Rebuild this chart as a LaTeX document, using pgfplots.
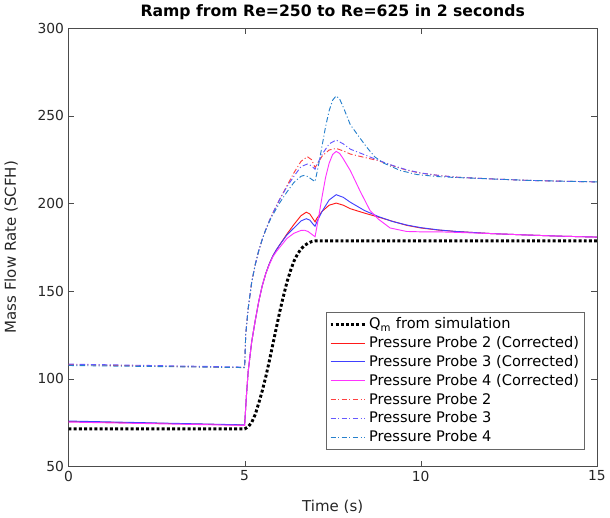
\documentclass[border=0pt]{standalone}
\usepackage{fontspec}
\setmainfont{DejaVu Sans}
\usepackage{pgfplots}
\pgfplotsset{compat=1.18}
\definecolor{cRed}{rgb}{1,0.1,0.1}
\definecolor{cBlue}{rgb}{0.25,0.25,1}
\definecolor{cMag}{rgb}{1,0.2,1}
\definecolor{dRed}{rgb}{1,0.25,0.25}
\definecolor{dBlue}{rgb}{0.4,0.35,1}
\definecolor{dLBlue}{rgb}{0.15,0.5,0.8}
\begin{document}
\begin{tikzpicture}
\begin{axis}[
  width=398pt, height=330pt, scale only axis,
  xmin=0, xmax=15, ymin=50, ymax=300,
  xtick={0,5,10,15}, ytick={50,100,150,200,250,300},
  tick align=inside, major tick length=4pt,
  axis line style={black!70}, tick style={black!70},
  /pgf/number format/assume math mode=true,
  tick label style={font=\fontsize{10.4}{12}\selectfont, text=black!85},
  title={\bfseries Ramp from Re=250 to Re=625 in 2 seconds},
  title style={font=\fontsize{11.8}{14}\selectfont, yshift=-3pt},
  xlabel={Time (s)}, ylabel={Mass Flow Rate (SCFH)},
  xlabel shift=7pt, ylabel shift=8pt,
  label style={font=\fontsize{11.3}{13}\selectfont, text=black!85},
  legend style={at={(0.977,0.039)}, anchor=south east, draw=black!60,
    font=\fontsize{11}{13}\selectfont, inner sep=2pt, row sep=0.3pt},
  legend cell align=left,
  legend image code/.code={\draw[#1] (0pt,0pt) -- (26pt,0pt);},
]
% Q_m from simulation
\addplot[black, line width=2.2pt, dash pattern=on 2.2pt off 1.7pt] coordinates {
(0,71.3) (5,71.3) (5.1,72.5) (5.2,75) (5.3,79.5) (5.4,86) (5.5,93) (5.6,101) (5.7,110) (5.8,119.5) (5.9,129) (6.0,138.5) (6.1,147) (6.2,155) (6.3,161.5) (6.4,167) (6.5,171) (6.6,174) (6.7,176) (6.8,177.3) (6.9,178.2) (7.0,178.6) (15,178.6)
};
\addlegendentry{Q\textsubscript{m} from simulation}
% Probe 2 corrected
\addplot[cRed, line width=0.7pt] coordinates {
(0,75.5) (5,73.5) (5.05,90) (5.1,104) (5.2,121) (5.3,133) (5.4,144) (5.5,153) (5.6,160) (5.7,165.5) (5.8,170) (5.9,173.5) (6.0,176.5) (6.2,182.5) (6.4,188) (6.6,193) (6.75,195) (6.85,194) (6.95,191) (7.0,189.5) (7.05,191.5) (7.2,195.5) (7.4,199) (7.6,200.2) (7.8,199) (8.0,197) (8.4,194.5) (8.8,192.2) (9.2,189.8) (9.6,187.5) (10,186) (10.5,184.8) (11,184) (12,182.8) (13,182) (14,181.3) (15,180.8)
};
\addlegendentry{Pressure Probe 2 (Corrected)}
% Probe 3 corrected
\addplot[cBlue, line width=0.7pt] coordinates {
(0,75.8) (5,73.6) (5.05,90) (5.1,104) (5.2,121) (5.3,133) (5.4,144) (5.5,153) (5.6,160) (5.7,165.5) (5.8,170) (5.9,173.5) (6.0,176.5) (6.2,182) (6.4,186) (6.6,190) (6.75,191.3) (6.85,190.5) (6.95,188) (7.0,187) (7.05,189.5) (7.2,195.5) (7.4,202) (7.6,205) (7.8,203.5) (8.0,200.7) (8.4,196) (8.8,192.5) (9.2,189.7) (9.6,187.7) (10,186.2) (10.5,184.9) (11,184) (12,182.8) (13,182) (14,181.3) (15,180.8)
};
\addlegendentry{Pressure Probe 3 (Corrected)}
% Probe 4 corrected
\addplot[cMag, line width=0.7pt] coordinates {
(0,75.2) (5,73.3) (5.05,90) (5.1,104) (5.2,121) (5.3,133) (5.4,144) (5.5,153) (5.6,160) (5.7,165) (5.8,169.5) (5.9,172.5) (6.0,175) (6.2,180) (6.4,183) (6.6,184.6) (6.7,184.7) (6.8,184) (6.9,182.5) (7.0,181) (7.1,192) (7.2,204) (7.3,215) (7.4,223) (7.5,228) (7.6,229.7) (7.7,228.5) (7.8,225.5) (8.0,218.8) (8.28,207) (8.56,196) (8.8,191) (9.13,186) (9.6,184) (10,183.8) (10.5,183.8) (11,183.5) (12,182.8) (13,182) (14,181.3) (15,180.8)
};
\addlegendentry{Pressure Probe 4 (Corrected)}
% Probe 2
\addplot[dRed, line width=0.7pt, dash pattern=on 4pt off 1.8pt on 0.8pt off 1.8pt] coordinates {
(0,108) (5,106.3) (5.03,125) (5.1,140) (5.2,155) (5.3,165) (5.4,173) (5.5,179.5) (5.6,185) (5.7,190) (5.8,194.5) (5.9,198.5) (6.0,202.5) (6.2,210) (6.4,217.5) (6.6,224) (6.78,226.7) (6.9,225) (7.0,220.5) (7.05,222) (7.2,227) (7.4,230.5) (7.6,231.4) (7.8,230) (8.0,228.2) (8.5,225.8) (8.8,224.4) (9.2,221.5) (9.6,219) (10,217.3) (10.5,216) (11,215) (12,214) (13,213.2) (14,212.7) (15,212.3)
};
\addlegendentry{Pressure Probe 2}
% Probe 3
\addplot[dBlue, line width=0.7pt, dash pattern=on 4pt off 1.8pt on 0.8pt off 1.8pt] coordinates {
(0,108.3) (5,106.6) (5.03,125) (5.1,140) (5.2,155) (5.3,165) (5.4,173) (5.5,179.5) (5.6,185) (5.7,190) (5.8,194.5) (5.9,198.5) (6.0,202.5) (6.2,209.5) (6.4,215.5) (6.6,221) (6.78,222.5) (6.9,221.5) (7.0,219.5) (7.05,222) (7.2,228) (7.4,234) (7.6,236.2) (7.8,234) (8.0,231) (8.5,227) (8.8,224.6) (9.2,221.7) (9.6,219.2) (10,217.4) (10.5,216) (11,215) (12,214) (13,213.2) (14,212.7) (15,212.3)
};
\addlegendentry{Pressure Probe 3}
% Probe 4
\addplot[dLBlue, line width=0.7pt, dash pattern=on 4pt off 1.8pt on 0.8pt off 1.8pt] coordinates {
(0,107.5) (5,106.3) (5.03,125) (5.1,140) (5.2,155) (5.3,165) (5.4,173) (5.5,179.5) (5.6,185) (5.7,189.5) (5.8,193.5) (5.9,197) (6.0,200.5) (6.2,206.5) (6.4,212) (6.6,215.5) (6.69,216) (6.8,215.3) (6.9,213.8) (7.0,212.5) (7.1,222) (7.2,233) (7.3,244) (7.4,253) (7.5,259) (7.6,261.4) (7.7,259.5) (7.8,255) (8.0,245) (8.25,238) (8.47,232) (8.7,226.5) (8.95,223) (9.42,218.8) (9.89,216.5) (10.5,215.3) (11,214.8) (12,214) (13,213.2) (14,212.7) (15,212.3)
};
\addlegendentry{Pressure Probe 4}
\end{axis}
\end{tikzpicture}
\end{document}
